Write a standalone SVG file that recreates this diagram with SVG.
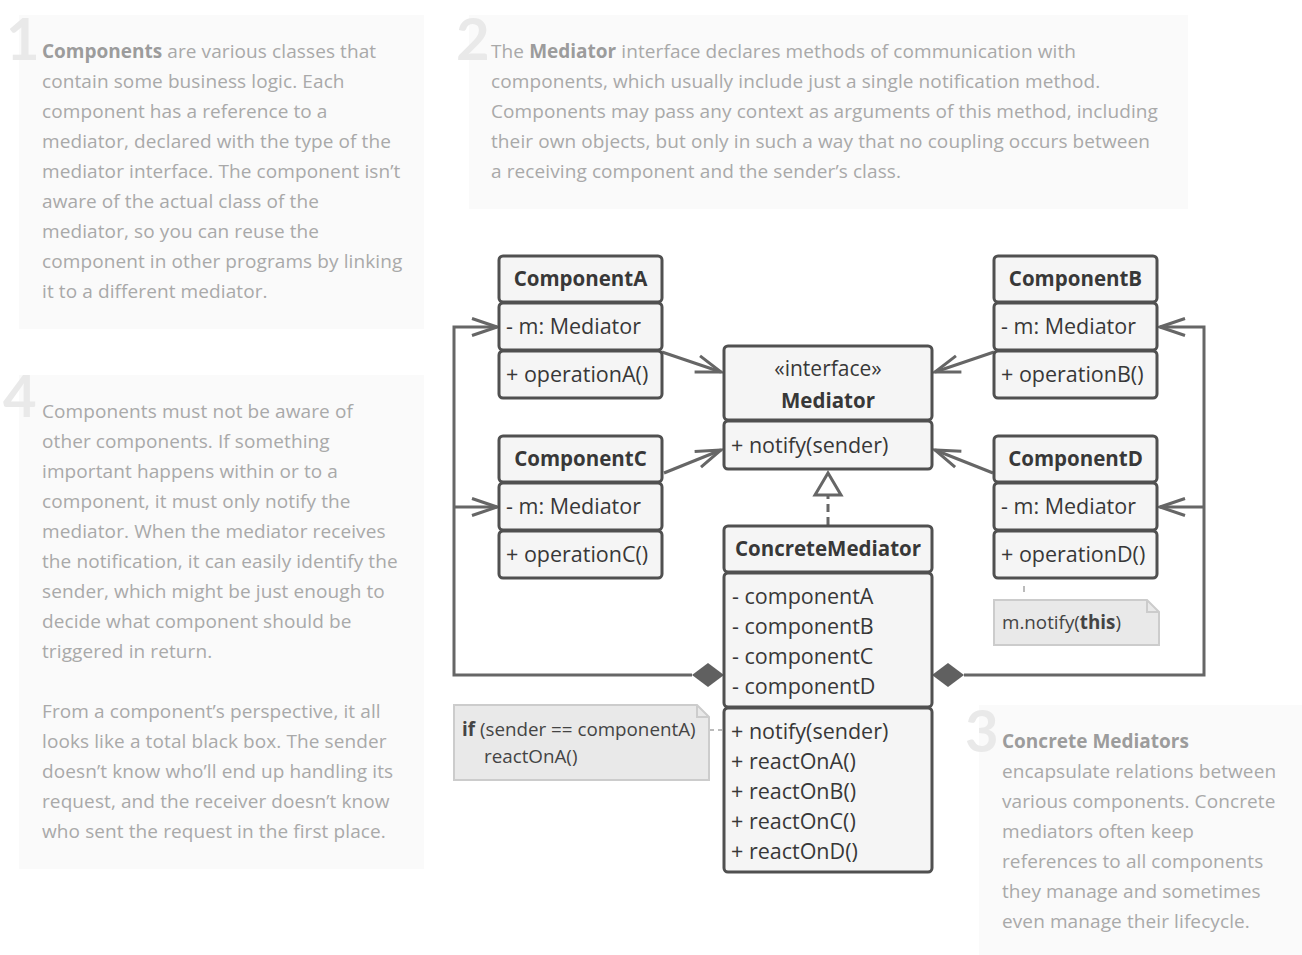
<svg xmlns="http://www.w3.org/2000/svg" width="1302" height="955" viewBox="0 0 1302 955">
<style>
.panel{fill:#fafafa}
.num{font-family:Lato,"Open Sans",sans-serif;font-size:58px;font-weight:bold;fill:#e9e9e9}
.pt{font-family:"Open Sans",sans-serif;font-size:19px;fill:#a9a9a9;letter-spacing:0.1px}
.pt tspan.b{font-weight:bold;fill:#9c9c9c;letter-spacing:0}
.box{fill:#f5f5f5;stroke:#505050;stroke-width:3}
.ttl{font-family:"Open Sans",sans-serif;font-size:20.5px;font-weight:bold;fill:#383838;text-anchor:middle}
.itm{font-family:"Open Sans",sans-serif;font-size:21.5px;fill:#383838}
.stereo{font-family:"Open Sans",sans-serif;font-size:21px;fill:#383838;text-anchor:middle}
.con{fill:none;stroke:#666;stroke-width:3}
.note{fill:#e9e9e9;stroke:#cccccc;stroke-width:2}
.nt{font-family:"Open Sans",sans-serif;font-size:18.8px;fill:#444}
.dot{fill:none;stroke:#bbbbbb;stroke-width:2;stroke-dasharray:4 4}
</style>
<defs>
<marker id="open" viewBox="-28 -11 30 22" markerWidth="30" markerHeight="22" refX="0" refY="0" markerUnits="userSpaceOnUse" orient="auto">
<path d="M-25,-8.5 L0,0 L-25,8.5" fill="none" stroke="#666" stroke-width="3"/>
</marker>
</defs>
<rect width="1302" height="955" fill="#ffffff"/>

<g id="panel1">
<rect class="panel" x="19" y="15" width="405" height="314"/>
<text class="num" x="6" y="60">1</text>
<text class="pt" x="42" y="58"><tspan class="b">Components</tspan> are various classes that</text>
<text class="pt" x="42" y="88">contain some business logic. Each</text>
<text class="pt" x="42" y="118">component has a reference to a</text>
<text class="pt" x="42" y="148">mediator, declared with the type of the</text>
<text class="pt" x="42" y="178">mediator interface. The component isn’t</text>
<text class="pt" x="42" y="208">aware of the actual class of the</text>
<text class="pt" x="42" y="238">mediator, so you can reuse the</text>
<text class="pt" x="42" y="268">component in other programs by linking</text>
<text class="pt" x="42" y="298">it to a different mediator.</text>
</g>

<g id="panel2">
<rect class="panel" x="469" y="15" width="719" height="194"/>
<text class="num" x="456" y="60">2</text>
<text class="pt" x="491" y="58">The <tspan class="b">Mediator</tspan> interface declares methods of communication with</text>
<text class="pt" x="491" y="88">components, which usually include just a single notification method.</text>
<text class="pt" x="491" y="118">Components may pass any context as arguments of this method, including</text>
<text class="pt" x="491" y="148">their own objects, but only in such a way that no coupling occurs between</text>
<text class="pt" x="491" y="178">a receiving component and the sender’s class.</text>
</g>

<g id="panel4">
<rect class="panel" x="19" y="375" width="405" height="494"/>
<text class="num" x="3" y="417">4</text>
<text class="pt" x="42" y="418">Components must not be aware of</text>
<text class="pt" x="42" y="448">other components. If something</text>
<text class="pt" x="42" y="478">important happens within or to a</text>
<text class="pt" x="42" y="508">component, it must only notify the</text>
<text class="pt" x="42" y="538">mediator. When the mediator receives</text>
<text class="pt" x="42" y="568">the notification, it can easily identify the</text>
<text class="pt" x="42" y="598">sender, which might be just enough to</text>
<text class="pt" x="42" y="628">decide what component should be</text>
<text class="pt" x="42" y="658">triggered in return.</text>
<text class="pt" x="42" y="718">From a component’s perspective, it all</text>
<text class="pt" x="42" y="748">looks like a total black box. The sender</text>
<text class="pt" x="42" y="778">doesn’t know who’ll end up handling its</text>
<text class="pt" x="42" y="808">request, and the receiver doesn’t know</text>
<text class="pt" x="42" y="838">who sent the request in the first place.</text>
</g>

<g id="panel3">
<rect class="panel" x="979" y="705" width="323" height="250"/>
<text class="num" x="965" y="752">3</text>
<text class="pt" x="1002" y="748"><tspan class="b">Concrete Mediators</tspan></text>
<text class="pt" x="1002" y="778">encapsulate relations between</text>
<text class="pt" x="1002" y="808">various components. Concrete</text>
<text class="pt" x="1002" y="838">mediators often keep</text>
<text class="pt" x="1002" y="868">references to all components</text>
<text class="pt" x="1002" y="898">they manage and sometimes</text>
<text class="pt" x="1002" y="928">even manage their lifecycle.</text>
</g>

<g id="connectors">
<line class="con" x1="662" y1="352" x2="721" y2="372" marker-end="url(#open)"/>
<line class="con" x1="664" y1="473" x2="721" y2="450" marker-end="url(#open)"/>
<line class="con" x1="994" y1="352" x2="935" y2="372" marker-end="url(#open)"/>
<line class="con" x1="993" y1="473" x2="935" y2="450" marker-end="url(#open)"/>
<path class="con" d="M692,675 H454 V327 H497" marker-end="url(#open)"/>
<path class="con" d="M454,507 H497" marker-end="url(#open)"/>
<path class="con" d="M964,675 H1204 V327 H1160" marker-end="url(#open)"/>
<path class="con" d="M1204,507 H1160" marker-end="url(#open)"/>
<polygon points="692,675 708,663 724,675 708,687" fill="#606060"/>
<polygon points="932,675 948,663 964,675 948,687" fill="#606060"/>
<line x1="828" y1="525" x2="828" y2="496" stroke="#666" stroke-width="3" stroke-dasharray="8 5"/>
<polygon points="828,473 815,495 841,495" fill="#ffffff" stroke="#666" stroke-width="3" stroke-linejoin="miter"/>
<line class="dot" x1="710" y1="730" x2="724" y2="730"/>
<line x1="1024" y1="586" x2="1024" y2="592" stroke="#bbbbbb" stroke-width="2"/>
</g>

<g id="componentA">
<rect class="box" x="499" y="256" width="163" height="46" rx="4"/>
<rect class="box" x="499" y="303" width="163" height="47" rx="4"/>
<rect class="box" x="499" y="351" width="163" height="47" rx="4"/>
<text class="ttl" x="580.5" y="286">ComponentA</text>
<text class="itm" x="506" y="334">- m: Mediator</text>
<text class="itm" x="506" y="382">+ operationA()</text>
</g>

<g id="componentB">
<rect class="box" x="994" y="256" width="163" height="46" rx="4"/>
<rect class="box" x="994" y="303" width="163" height="47" rx="4"/>
<rect class="box" x="994" y="351" width="163" height="47" rx="4"/>
<text class="ttl" x="1075.5" y="286">ComponentB</text>
<text class="itm" x="1001" y="334">- m: Mediator</text>
<text class="itm" x="1001" y="382">+ operationB()</text>
</g>

<g id="componentC">
<rect class="box" x="499" y="436" width="163" height="46" rx="4"/>
<rect class="box" x="499" y="483" width="163" height="47" rx="4"/>
<rect class="box" x="499" y="531" width="163" height="47" rx="4"/>
<text class="ttl" x="580.5" y="466">ComponentC</text>
<text class="itm" x="506" y="514">- m: Mediator</text>
<text class="itm" x="506" y="562">+ operationC()</text>
</g>

<g id="componentD">
<rect class="box" x="994" y="436" width="163" height="46" rx="4"/>
<rect class="box" x="994" y="483" width="163" height="47" rx="4"/>
<rect class="box" x="994" y="531" width="163" height="47" rx="4"/>
<text class="ttl" x="1075.5" y="466">ComponentD</text>
<text class="itm" x="1001" y="514">- m: Mediator</text>
<text class="itm" x="1001" y="562">+ operationD()</text>
</g>

<g id="mediator">
<rect class="box" x="724" y="346" width="208" height="74" rx="4"/>
<rect class="box" x="724" y="421" width="208" height="48" rx="4"/>
<text class="stereo" x="828" y="376">«interface»</text>
<text class="ttl" x="828" y="408">Mediator</text>
<text class="itm" x="731" y="453">+ notify(sender)</text>
</g>

<g id="concreteMediator">
<rect class="box" x="724" y="526" width="208" height="46" rx="4"/>
<rect class="box" x="724" y="573" width="208" height="134" rx="4"/>
<rect class="box" x="724" y="708" width="208" height="164" rx="4"/>
<text class="ttl" x="828" y="556">ConcreteMediator</text>
<text class="itm" x="732" y="604">- componentA</text>
<text class="itm" x="732" y="634">- componentB</text>
<text class="itm" x="732" y="664">- componentC</text>
<text class="itm" x="732" y="694">- componentD</text>
<text class="itm" x="731" y="739">+ notify(sender)</text>
<text class="itm" x="731" y="769">+ reactOnA()</text>
<text class="itm" x="731" y="799">+ reactOnB()</text>
<text class="itm" x="731" y="829">+ reactOnC()</text>
<text class="itm" x="731" y="859">+ reactOnD()</text>
</g>

<g id="noteIf">
<path class="note" d="M454,705 H697 L709,717 V780 H454 Z"/>
<path d="M697,705 V717 H709" fill="none" stroke="#cccccc" stroke-width="2"/>
<text class="nt" x="462" y="736"><tspan font-weight="bold">if</tspan> (sender == componentA)</text>
<text class="nt" x="484" y="763">reactOnA()</text>
</g>

<g id="noteNotify">
<path class="note" d="M994,600 H1147 L1159,612 V645 H994 Z"/>
<path d="M1147,600 V612 H1159" fill="none" stroke="#cccccc" stroke-width="2"/>
<text class="nt" x="1002" y="629">m.notify(<tspan font-weight="bold">this</tspan>)</text>
</g>
</svg>
